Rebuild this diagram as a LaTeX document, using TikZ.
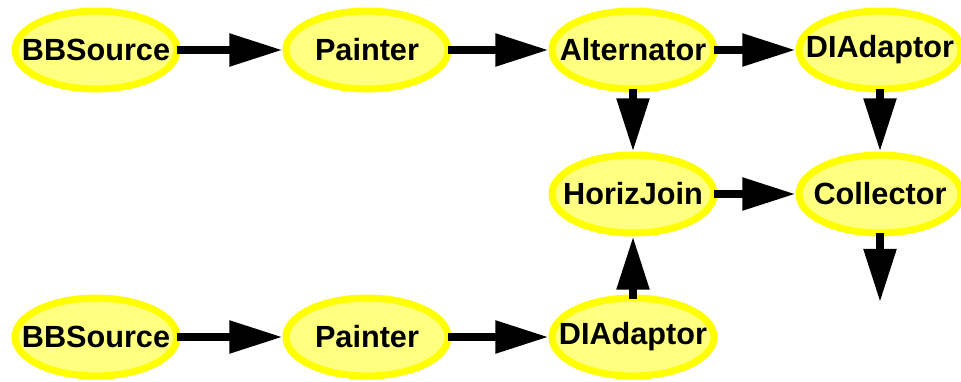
\documentclass[tikz,border=0pt]{standalone}
\usepackage{fontspec}
\setmainfont{Liberation Sans}
\usepackage{xcolor}
\usepackage{tikz}
\usetikzlibrary{positioning, arrows.meta, shapes.geometric}

\definecolor{nodefill}{RGB}{255,255,128}
\definecolor{nodeline}{RGB}{255,255,0}

\begin{document}
\begin{tikzpicture}[
        >={Triangle[length=1.33cm, width=0.78cm]},
        stage/.style={ellipse, draw=nodeline, fill=nodefill, line width=0.175cm, minimum width=4.05cm, minimum height=1.95cm, inner xsep=-0.45cm, inner ysep=0pt, font=\fontsize{21.8}{26}\selectfont\bfseries},
        flow/.style={->, line width=0.2cm, draw=black, shorten <=-0.1cm},
    ]
    \useasboundingbox (0,0) rectangle (24.025,-9.525);
    \node[stage] (src1) at (2.4,-1.25) {BBSource};
    \node[stage, right=2.55cm of src1] (paint1) {Painter};
    \node[stage, right=2.425cm of paint1] (alt) {Alternator};
    \node[stage, right=1.95cm of alt] (dia1) {DIAdaptor};
    \node[stage, below=1.475cm of alt] (join) {HorizJoin};
    \node[stage, below=1.475cm of dia1] (coll) {Collector};
    \node[stage, below=1.45cm of join] (dia2) {DIAdaptor};
    \node[stage, left=2.425cm of dia2] (paint2) {Painter};
    \node[stage, left=2.55cm of paint2] (src2) {BBSource};
    \coordinate[below=1.64cm of coll] (out);
    \draw[flow] (src1)--(paint1); \draw[flow] (paint1)--(alt); \draw[flow] (alt)--(dia1);
    \draw[flow] (alt)--(join); \draw[flow] (dia1)--(coll);
    \draw[flow] (join)--(coll); \draw[flow] (coll.south)--(out);
    \draw[flow] (src2)--(paint2); \draw[flow] (paint2)--(dia2); \draw[flow] (dia2)--(join);
\end{tikzpicture}
\end{document}
